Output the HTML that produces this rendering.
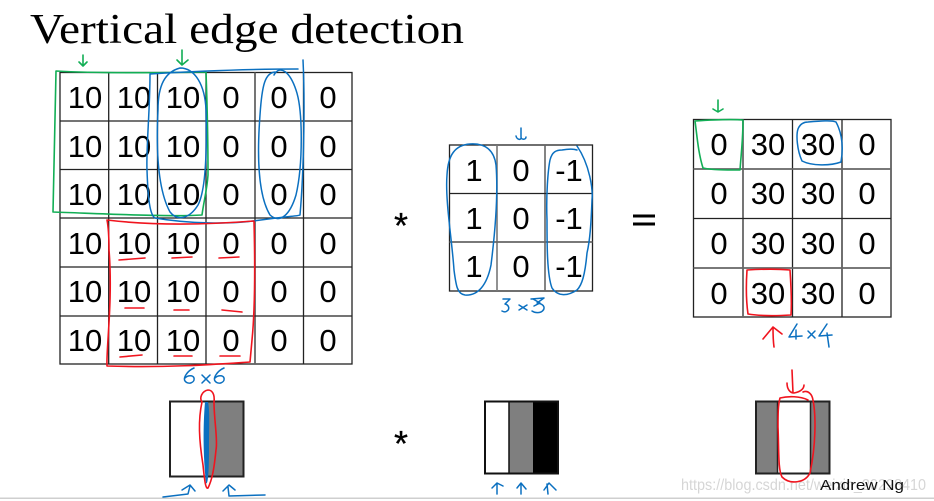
<!DOCTYPE html>
<html><head><meta charset="utf-8"><style>
html,body{margin:0;padding:0;background:#fff;width:934px;height:501px;overflow:hidden}
svg{display:block}
text{font-family:"Liberation Sans",sans-serif;fill:#000}
.n text{font-size:31px;text-anchor:middle}
.g line{stroke:#222;stroke-width:1.3}
.b{stroke:#0b70c0;stroke-width:1.5;fill:none;stroke-linecap:round;stroke-linejoin:round}
.r{stroke:#f0141e;stroke-width:1.6;fill:none;stroke-linecap:round;stroke-linejoin:round}
.v{stroke:#12ae55;stroke-width:1.6;fill:none;stroke-linecap:round;stroke-linejoin:round}
</style></head><body>
<svg width="934" height="501" viewBox="0 0 934 501" xmlns="http://www.w3.org/2000/svg">
<rect width="934" height="501" fill="#fff"/>
<text x="30" y="43" textLength="434" lengthAdjust="spacingAndGlyphs" style="font-family:'Liberation Serif',serif;font-size:42px">Vertical edge detection</text>

<g class="g">
<rect x="60" y="72.5" width="292" height="291.5" fill="none" stroke="#222" stroke-width="1.3"/>
<line x1="108.7" y1="72.5" x2="108.7" y2="364"/><line x1="157.5" y1="72.5" x2="157.5" y2="364"/><line x1="206" y1="72.5" x2="206" y2="364"/><line x1="255" y1="72.5" x2="255" y2="364" style="stroke:#666;stroke-width:1.8"/><line x1="303.5" y1="72.5" x2="303.5" y2="364"/>
<line x1="60" y1="121" x2="352" y2="121"/><line x1="60" y1="169.5" x2="352" y2="169.5"/><line x1="60" y1="218" x2="352" y2="218"/><line x1="60" y1="267" x2="352" y2="267"/><line x1="60" y1="316" x2="352" y2="316"/>
</g>
<g class="n">
<text x="85" y="108">10</text><text x="134" y="108">10</text><text x="183" y="108">10</text><text x="231" y="108">0</text><text x="279" y="108">0</text><text x="328" y="108">0</text>
<text x="85" y="157">10</text><text x="134" y="157">10</text><text x="183" y="157">10</text><text x="231" y="157">0</text><text x="279" y="157">0</text><text x="328" y="157">0</text>
<text x="85" y="205">10</text><text x="134" y="205">10</text><text x="183" y="205">10</text><text x="231" y="205">0</text><text x="279" y="205">0</text><text x="328" y="205">0</text>
<text x="85" y="254">10</text><text x="134" y="254">10</text><text x="183" y="254">10</text><text x="231" y="254">0</text><text x="279" y="254">0</text><text x="328" y="254">0</text>
<text x="85" y="302">10</text><text x="134" y="302">10</text><text x="183" y="302">10</text><text x="231" y="302">0</text><text x="279" y="302">0</text><text x="328" y="302">0</text>
<text x="85" y="351">10</text><text x="134" y="351">10</text><text x="183" y="351">10</text><text x="231" y="351">0</text><text x="279" y="351">0</text><text x="328" y="351">0</text>
</g>

<g class="g">
<rect x="449.5" y="145" width="143" height="146" fill="none" stroke="#222" stroke-width="1.3"/>
<line x1="497" y1="145" x2="497" y2="291" style="stroke:#777;stroke-width:1.6"/><line x1="545" y1="145" x2="545" y2="291" style="stroke:#666;stroke-width:1.6"/>
<line x1="449.5" y1="193.5" x2="592.5" y2="193.5"/><line x1="449.5" y1="242" x2="592.5" y2="242" style="stroke:#666;stroke-width:1.8"/>
</g>
<g class="n">
<text x="474" y="181">1</text><text x="521" y="181">0</text><text x="569" y="181">-1</text>
<text x="474" y="229">1</text><text x="521" y="229">0</text><text x="569" y="229">-1</text>
<text x="474" y="277">1</text><text x="521" y="277">0</text><text x="569" y="277">-1</text>
</g>

<g class="g">
<rect x="693.5" y="119.5" width="197.5" height="197.5" fill="none" stroke="#222" stroke-width="1.3"/>
<line x1="743" y1="119.5" x2="743" y2="317" style="stroke:#666;stroke-width:1.8"/><line x1="792.5" y1="119.5" x2="792.5" y2="317"/><line x1="842" y1="119.5" x2="842" y2="317"/>
<line x1="693.5" y1="169" x2="891" y2="169" style="stroke:#666;stroke-width:1.8"/><line x1="693.5" y1="218.5" x2="891" y2="218.5"/><line x1="693.5" y1="268" x2="891" y2="268" style="stroke:#666;stroke-width:1.8"/>
</g>
<g class="n">
<text x="719" y="155">0</text><text x="768" y="155">30</text><text x="818" y="155">30</text><text x="867" y="155">0</text>
<text x="719" y="204">0</text><text x="768" y="204">30</text><text x="818" y="204">30</text><text x="867" y="204">0</text>
<text x="719" y="254">0</text><text x="768" y="254">30</text><text x="818" y="254">30</text><text x="867" y="254">0</text>
<text x="719" y="304">0</text><text x="768" y="304">30</text><text x="818" y="304">30</text><text x="867" y="304">0</text>
</g>

<text x="401" y="238" text-anchor="middle" style="font-size:36px;stroke:#000;stroke-width:.3">*</text>
<rect x="633" y="214.5" width="22" height="3" fill="#000"/><rect x="633" y="222.5" width="22" height="3" fill="#000"/>
<text x="401" y="456" text-anchor="middle" style="font-size:36px;stroke:#000;stroke-width:.3">*</text>

<!-- bottom images -->
<rect x="170" y="401.5" width="36" height="75" fill="#fff"/>
<rect x="206" y="401.5" width="37" height="75" fill="#7f7f7f"/>
<rect x="170" y="401.5" width="73.5" height="75" fill="none" stroke="#222" stroke-width="2"/>
<rect x="485" y="401.5" width="24" height="72" fill="#fff"/>
<rect x="509" y="401.5" width="24" height="72" fill="#7f7f7f"/>
<rect x="533" y="401" width="25" height="73" fill="#000"/>
<rect x="485" y="401.5" width="73" height="72" fill="none" stroke="#111" stroke-width="2"/>
<line x1="509" y1="401" x2="509" y2="474" stroke="#111" stroke-width="1.5"/>
<rect x="756" y="401.5" width="22" height="72" fill="#7f7f7f"/>
<rect x="810" y="401.5" width="19" height="72" fill="#7f7f7f"/>
<rect x="756" y="401.5" width="73.5" height="72" fill="none" stroke="#222" stroke-width="2"/>
<line x1="777.5" y1="401" x2="777.5" y2="474" stroke="#222" stroke-width="1.5"/>
<line x1="810.5" y1="401" x2="810.5" y2="474" stroke="#222" stroke-width="1.5"/>

<rect x="0" y="497.5" width="934" height="1.5" fill="#cfcfcf"/>
<text x="681" y="490" textLength="245" lengthAdjust="spacingAndGlyphs" style="font-size:16px;fill:#d6d6d6">https://blog.csdn.net/weixin_20298410</text>
<text x="820" y="490" textLength="84" lengthAdjust="spacingAndGlyphs" style="font-size:15px;fill:#111">Andrew Ng</text>

<!-- green -->
<path class="v" d="M56 71C90 73 150 73 206 72C207 100 208 140 208 175C207 190 204 200 202 215C170 217 110 214 53 212C54 170 55 120 56 71Z"/>
<path class="v" d="M83 55V66M79 62L83 66L87 62"/>
<path class="v" d="M182 50V65M177 60L182 65L188 60"/>
<path class="v" d="M695 121C710 120 730 119 743 120C743 140 741 155 740 170C725 170 712 170 703 168C698 152 697 135 695 121Z"/>
<path class="v" d="M718 100V111M713 109L718 112L723 109"/>

<!-- blue -->
<path class="b" d="M150 74C200 71 260 69 298 69M150 74C150 110 146 150 147 170C148 200 150 215 155 218C190 224 230 224 253 221C290 216 299 216 300 215M303 60C305 100 304 170 300 215"/>
<path class="b" d="M180 68C165 72 158 85 158 110C156 150 158 190 170 212C178 222 190 218 198 205C206 190 207 150 206 110C205 85 195 68 180 68Z"/>
<path class="b" d="M276 72C265 72 262 85 260 115C257 155 258 195 270 215C280 224 290 215 296 195C303 165 303 110 296 90C290 72 280 64 274 75"/>
<path class="b" d="M470 144C485 143 494 150 496 165C498 190 496 225 491 265C487 285 478 296 465 295C457 294 456 285 454 270C452 240 445 200 447 175C448 155 455 145 470 144Z"/>
<path class="b" d="M577 146C590 165 593 190 592 200C591 225 590 240 587 253C585 275 582 285 577 290C568 296 558 297 552 288C547 275 547 245 547 220C546 195 548 170 550 160C552 152 556 150 562 150C568 149 574 149 577 150"/>
<path class="b" d="M521 128V137C521 140 526 140 526 137M516 136C517 140 521 140 521 138"/>
<path class="b" d="M808 122C820 121 832 120 836 122C843 135 843 150 841 162C830 166 812 166 802 161C797 150 796 135 798 129C800 124 804 122 808 122Z"/>
<!-- 3x3 -->
<path class="b" d="M503 299L510 299L505 304C509 305 510 309 507 311C506 312 504 312 502 311"/>
<path class="b" d="M519 305L527 310M527 305L519 310"/>
<path class="b" d="M531 299L544 298L537 303C545 304 546 309 541 312C538 313 535 313 532 311M533 299L540 303L534 306"/>
<!-- 6x6 -->
<path class="b" d="M194 368C187 371 183 378 185 381C188 385 195 383 194 378C193 375 188 375 185 378"/>
<path class="b" d="M202 375L210 383M210 375L202 383"/>
<path class="b" d="M224 368C217 371 213 378 215 381C218 385 225 383 224 378C223 375 218 375 215 378"/>
<!-- 4x4 -->
<path class="b" d="M797 324L789 337L802 336M796 330V339"/>
<path class="b" d="M808 331L815 338M815 331L808 338"/>
<path class="b" d="M827 324L819 336L832 335M827 333L829 347"/>
<!-- bottom blue -->
<path d="M205 402C203 425 203 455 206 483C208 486 209 470 209 450C209 430 210 410 208 402Z" fill="#0b70c0"/>
<path class="b" d="M163 497L188 494L190 486M182 490L190 485L195 491"/>
<path class="b" d="M265 495L229 496L228 487M223 491L229 485L235 490"/>
<path class="b" d="M497 494V483M492 488L497 483L503 486"/>
<path class="b" d="M521 494V484M517 488L521 483L526 489"/>
<path class="b" d="M548 494L547 484M544 490L549 483L556 490"/>

<!-- red -->
<path class="r" d="M107 220C140 224 190 226 254 221C255 260 255 310 252 340L250 362C220 364 170 368 107 366C106 350 113 300 109 250C109 235 108 225 107 220Z"/>
<path class="r" d="M119 260L145 258M172 258L192 257M219 258L239 257M125 308L144 308M174 310L189 310M222 310L242 312M120 357L142 355M174 356L192 356M220 356L240 356"/>
<path class="r" d="M747 270C762 269 780 269 790 270C791 285 792 300 791 315C775 316 760 316 748 314C746 300 746 285 747 270Z"/>
<path class="r" d="M774 347C773 340 773 333 773 327M763 339L773 327L782 334"/>
<path class="r" d="M208 390C202 391 199 398 202 402C198 420 199 440 203 465C205 485 206 489 208 488C212 480 214 470 216 450C218 440 214 420 214 402C215 394 212 390 208 390Z"/>
<path class="r" d="M792 370L793 393M787 383C787 389 790 393 794 393C800 392 804 389 804 385"/>
<path class="r" d="M803 392C808 390 812 394 813 400C816 415 816 445 810 473C805 483 790 485 782 477C778 470 779 450 778 427C778 415 778 405 780 398C788 396 800 396 808 400"/>
</svg>
</body></html>
